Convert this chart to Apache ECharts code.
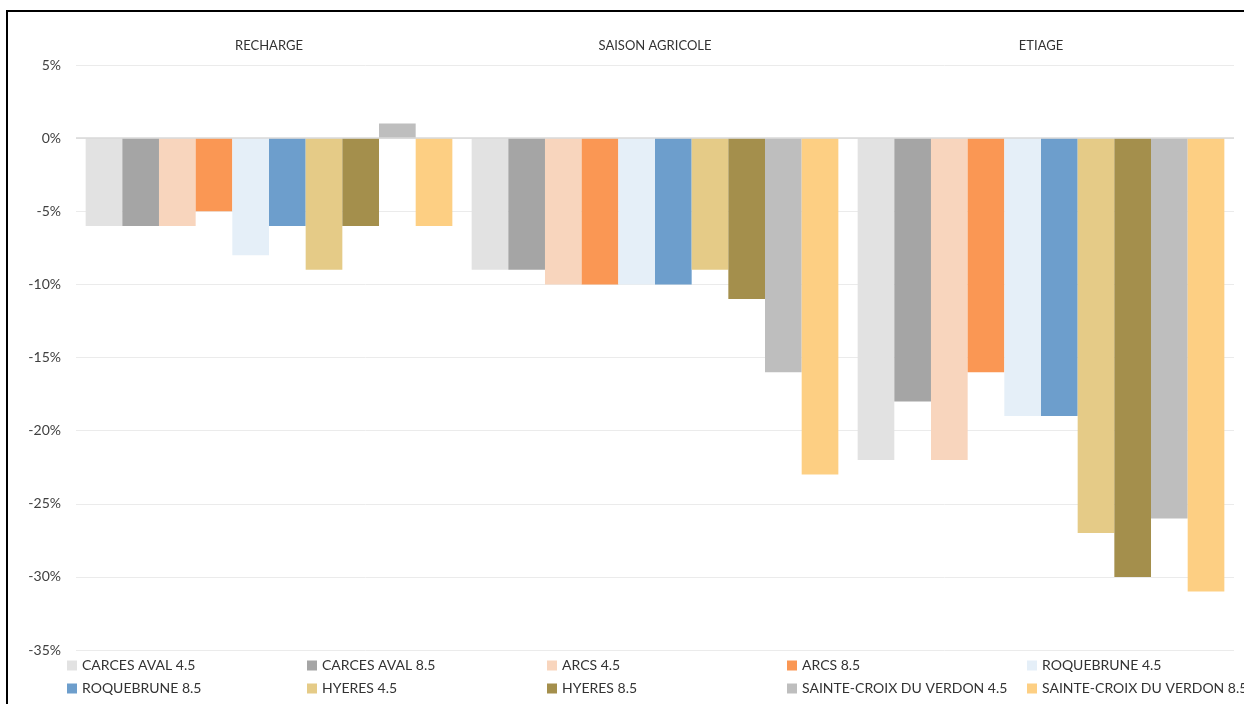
<!DOCTYPE html>
<html>
<head>
<meta charset="utf-8">
<script src="https://cdn.jsdelivr.net/npm/echarts@6/dist/echarts.min.js"></script>
<style>
  html, body { margin: 0; padding: 0; background: #fff; }
  #chart { width: 1244px; height: 704px; }
</style>
</head>
<body>
<div id="chart"></div>
<script>
const periods = ['RECHARGE', 'SAISON AGRICOLE', 'ETIAGE'];

const seriesNames = [
  'CARCES AVAL 4.5', 'CARCES AVAL 8.5', 'ARCS 4.5', 'ARCS 8.5', 'ROQUEBRUNE 4.5',
  'ROQUEBRUNE 8.5', 'HYERES 4.5', 'HYERES 8.5', 'SAINTE-CROIX DU VERDON 4.5', 'SAINTE-CROIX DU VERDON 8.5'
];

const carcesAval45 = [-6, -9, -22];
const carcesAval85 = [-6, -9, -18];
const arcs45 = [-6, -10, -22];
const arcs85 = [-5, -10, -16];
const roquebrune45 = [-8, -10, -19];
const roquebrune85 = [-6, -10, -19];
const hyeres45 = [-9, -9, -27];
const hyeres85 = [-6, -11, -30];
const sainteCroix45 = [1, -16, -26];
const sainteCroix85 = [-6, -23, -31];

const seriesValues = [
  carcesAval45, carcesAval85, arcs45, arcs85, roquebrune45,
  roquebrune85, hyeres45, hyeres85, sainteCroix45, sainteCroix85
];

const colors = [
  '#e2e2e2', '#a5a5a5', '#f8d5bd', '#fa9754', '#e5eff8',
  '#6d9ecc', '#e5cb87', '#a48f4c', '#bebebe', '#fdcf83'
];

const yTicks = { min: -35, max: 5, step: 5 };

const chart = echarts.init(document.getElementById('chart'));

const series = seriesNames.map((name, i) => ({
  name,
  type: 'bar',
  data: seriesValues[i],
  barGap: 0,
  barCategoryGap: '5%',
  itemStyle: { color: colors[i] },
  markLine: i === 0 ? {
    silent: true,
    symbol: 'none',
    label: { show: false },
    lineStyle: { color: '#d9d9d9', width: 1.5, type: 'solid' },
    data: [{ yAxis: 0 }]
  } : undefined
}));

chart.setOption({
  animation: false,
  textStyle: { fontFamily: 'Lato, "Open Sans", sans-serif' },
  graphic: [{
    type: 'rect',
    z: -10,
    shape: { x: 7, y: 11, width: 1400, height: 900 },
    style: { fill: 'none', stroke: '#000', lineWidth: 2 }
  }],
  grid: { left: 76, right: 10, top: 65, bottom: 54 },
  xAxis: {
    type: 'category',
    position: 'top',
    data: periods,
    axisLine: { show: false, onZero: false },
    axisTick: { show: false },
    axisLabel: { color: '#333', fontSize: 13, margin: 13 }
  },
  yAxis: {
    type: 'value',
    min: yTicks.min,
    max: yTicks.max,
    interval: yTicks.step,
    axisLine: { show: false },
    axisTick: { show: false },
    axisLabel: { color: '#404040', fontSize: 14, margin: 15, formatter: '{value}%' },
    splitLine: { lineStyle: { color: '#ebebeb', width: 1 } }
  },
  legend: {
    left: 62,
    top: 649,
    width: 1220,
    itemWidth: 10,
    itemHeight: 10,
    itemGap: 0,
    icon: 'rect',
    data: seriesNames,
    textStyle: { color: '#333', fontSize: 14, width: 225, lineHeight: 23, overflow: 'none' }
  },
  series
});
</script>
</body>
</html>
